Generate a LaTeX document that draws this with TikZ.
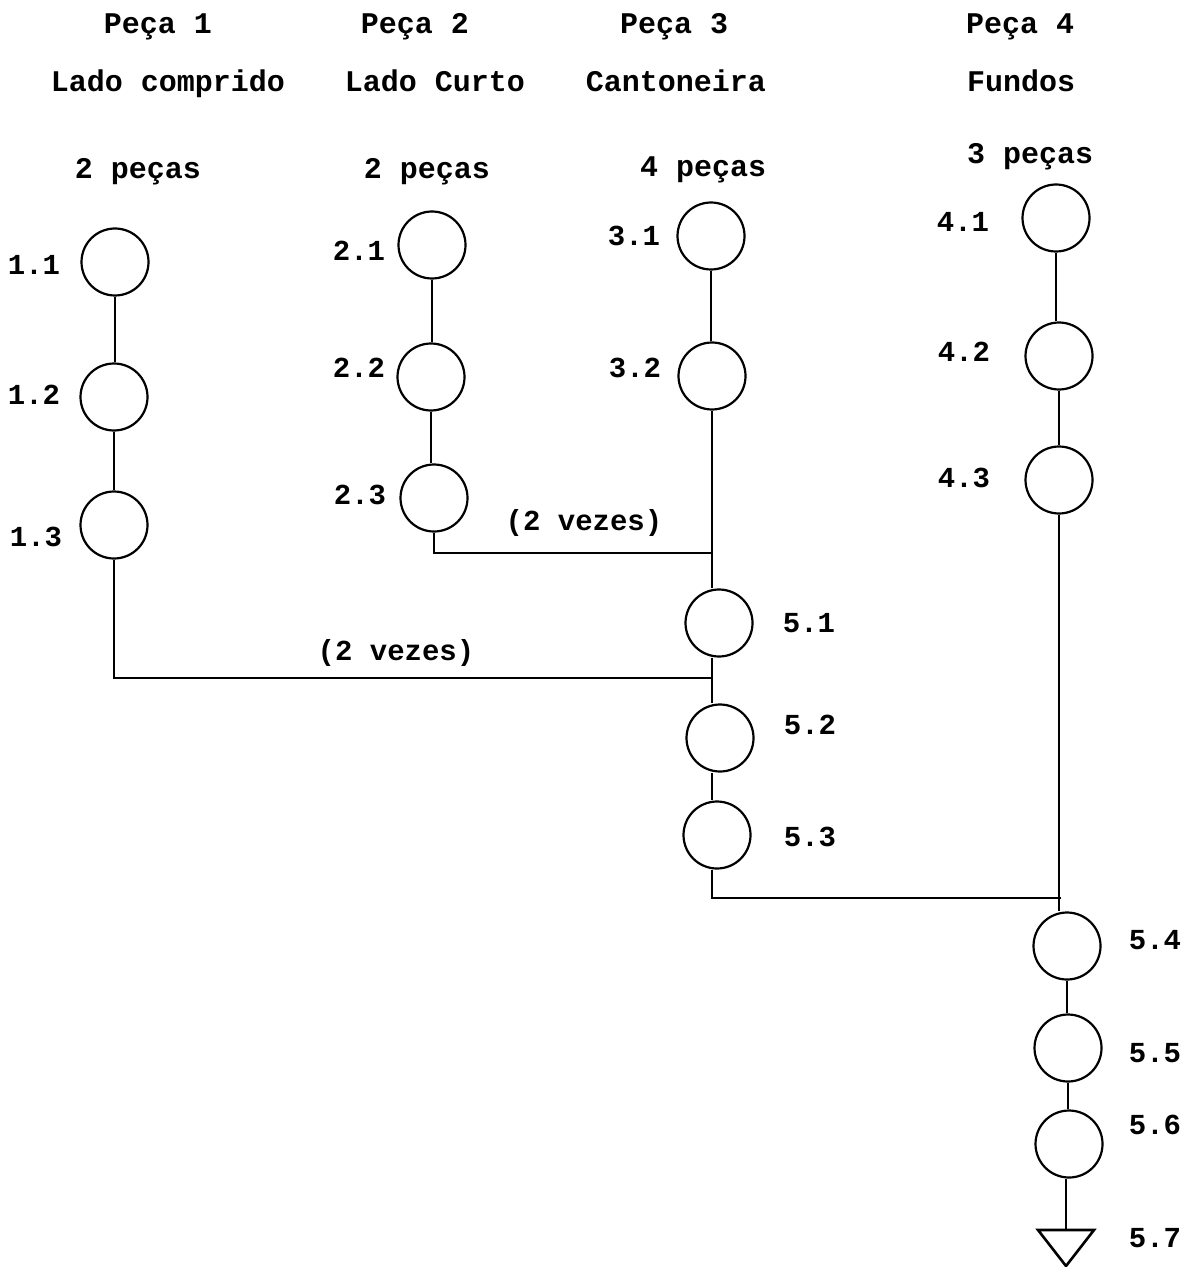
\documentclass[tikz,border=0pt]{standalone}
\usepackage{fontspec}
\newfontfamily\tw{Liberation Mono}
\begin{document}
\begin{tikzpicture}[x=0.5pt,y=-0.5pt,
  circ/.style={draw, circle, minimum size=33.5pt, inner sep=0pt, line width=1.1pt},
  conn/.style={line width=1.3pt},
  txt/.style={font=\tw\bfseries\fontsize{14.5}{17}\selectfont, anchor=base, inner sep=0pt},
  hdr/.style={font=\tw\bfseries\fontsize{15}{18}\selectfont, anchor=base, inner sep=0pt}]
\path[use as bounding box, fill=white] (0,0) rectangle (1190,1267);

% headers
\node[hdr] (h1a) at (158,34) {Peça 1};
\node[hdr] (h1b) at (168,92) {Lado comprido};
\node[hdr] (h1c) at (138,179) {2 peças};
\node[hdr] (h2a) at (415,34) {Peça 2};
\node[hdr] (h2b) at (435,92) {Lado Curto};
\node[hdr] (h2c) at (427,179) {2 peças};
\node[hdr] (h3a) at (674,34) {Peça 3};
\node[hdr] (h3b) at (676,92) {Cantoneira};
\node[hdr] (h3c) at (703,177) {4 peças};
\node[hdr] (h4a) at (1020,34) {Peça 4};
\node[hdr] (h4b) at (1021,92) {Fundos};
\node[hdr] (h4c) at (1030,164) {3 peças};

% circles
\node[circ] (c11) at (115,262) {};
\node[circ] (c12) at (114,397) {};
\node[circ] (c13) at (114,525) {};
\node[circ] (c21) at (432,245) {};
\node[circ] (c22) at (431,377) {};
\node[circ] (c23) at (434,498) {};
\node[circ] (c31) at (711,236) {};
\node[circ] (c32) at (712,376) {};
\node[circ] (c41) at (1056,218) {};
\node[circ] (c42) at (1059,356) {};
\node[circ] (c43) at (1059,480) {};
\node[circ] (c51) at (719,623) {};
\node[circ] (c52) at (720,738) {};
\node[circ] (c53) at (717,835) {};
\node[circ] (c54) at (1067,946) {};
\node[circ] (c55) at (1068,1048) {};
\node[circ] (c56) at (1069,1144) {};
\coordinate (t57) at (1066,1230);

% labels
\node[txt] (l11) at (34,275) {1.1};
\node[txt] (l12) at (34,404) {1.2};
\node[txt] (l13) at (36,546) {1.3};
\node[txt] (l21) at (359,261) {2.1};
\node[txt] (l22) at (359,377) {2.2};
\node[txt] (l23) at (360,504) {2.3};
\node[txt] (l31) at (634,246) {3.1};
\node[txt] (l32) at (635,377) {3.2};
\node[txt] (l41) at (963,232) {4.1};
\node[txt] (l42) at (964,361) {4.2};
\node[txt] (l43) at (964,487) {4.3};
\node[txt] (l51) at (809,632) {5.1};
\node[txt] (l52) at (810,734) {5.2};
\node[txt] (l53) at (810,846) {5.3};
\node[txt] (l54) at (1155,949) {5.4};
\node[txt] (l55) at (1155,1062) {5.5};
\node[txt] (l56) at (1155,1134) {5.6};
\node[txt] (l57) at (1155,1247) {5.7};

\node[txt] (v1) at (584,530) {(2 vezes)};
\node[txt] (v2) at (396,660) {(2 vezes)};

% junctions
\coordinate (j1) at (712,678);
\coordinate (j2) at (712,553);
\coordinate (j3) at (1061,898);

% connectors
\draw[conn] (c11.south) -- (c11.south |- c12.north);
\draw[conn] (c12.south) -- (c12.south |- c13.north);
\draw[conn] (c13.south) |- (j1);
\draw[conn] (c21.south) -- (c21.south |- c22.north);
\draw[conn] (c22.south) -- (c22.south |- c23.north);
\draw[conn] (c23.south) |- (j2);
\draw[conn] (c31.south) -- (c31.south |- c32.north);
\draw[conn] (c32.south) -- (c32.south |- c51.north);
\draw[conn] (c32.south |- c51.south) -- (c32.south |- c52.north);
\draw[conn] (c32.south |- c52.south) -- (c32.south |- c53.north);
\draw[conn] (c32.south |- c53.south) |- (j3);
\draw[conn] (c41.south) -- (c41.south |- c42.north);
\draw[conn] (c42.south) -- (c42.south |- c43.north);
\draw[conn] (c43.south) -- (c43.south |- c54.north);
\draw[conn] (c54.south) -- (c54.south |- c55.north);
\draw[conn] (c55.south) -- (c55.south |- c56.north);
\draw[conn] (c56.south -| t57) -- (t57);
\draw[conn, line join=miter] (t57) ++(-28,0) -- ++(56,0) -- ++(-28,36) -- cycle;
\end{tikzpicture}
\end{document}
